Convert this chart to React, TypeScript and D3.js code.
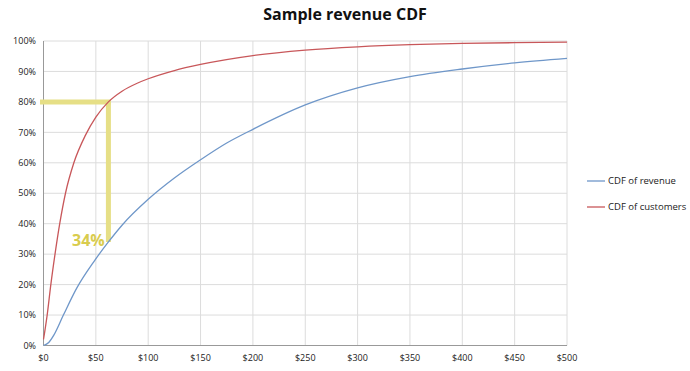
import React from "react";
import * as d3 from "d3";

// spend in $, cumulative share in %
const customerSpend = [0, 3.5, 7, 11, 15.5, 21, 29, 40, 50, 62, 75, 90, 100, 125, 150, 200, 250, 300, 350, 400, 450, 500];
const customerShare = [2, 10, 20, 30, 40, 50, 60, 69, 75, 80, 83.5, 86.2, 87.6, 90.3, 92.3, 95.2, 97, 98.1, 98.8, 99.2, 99.45, 99.6];

const revenueSpend = [0, 5, 10, 19, 32, 48, 62, 75, 100, 125, 150, 175, 200, 250, 300, 350, 400, 450, 500];
const revenueShare = [0, 1, 3.5, 10, 19, 27.5, 34, 39.5, 48, 55, 61, 66.5, 71, 79, 84.6, 88.3, 90.8, 92.8, 94.3];

const xTicks = [0, 50, 100, 150, 200, 250, 300, 350, 400, 450, 500];
const yTicks = [0, 10, 20, 30, 40, 50, 60, 70, 80, 90, 100];

const markSpend = 62;
const markCustomers = 80;
const markRevenue = 34;

export default function App() {
  const width = 690;
  const height = 371;
  const margin = { left: 43.5, right: 123, top: 41, bottom: 25.5 };

  const x = d3.scaleLinear().domain([0, 500]).range([margin.left, width - margin.right]);
  const y = d3.scaleLinear().domain([0, 100]).range([height - margin.bottom, margin.top]);

  const line = d3
    .line<[number, number]>()
    .x(d => x(d[0]))
    .y(d => y(d[1]))
    .curve(d3.curveMonotoneX);

  const revenuePath = line(revenueSpend.map((s, i) => [s, revenueShare[i]]));
  const customerPath = line(customerSpend.map((s, i) => [s, customerShare[i]]));

  const blue = "#6f97c9";
  const red = "#c8575a";
  const yellow = "#e6df86";

  return (
    <svg
      width={width}
      height={height}
      style={{ position: "absolute", left: 0, top: 0, background: "#fff" }}
      fontFamily="'Open Sans', 'Liberation Sans', sans-serif"
    >
      <text x={345} y={20} textAnchor="middle" fontSize={16} fontWeight="bold" fill="#111">
        Sample revenue CDF
      </text>

      {/* grid */}
      {yTicks.map(t => (
        <line key={"gy" + t} x1={x(0)} x2={x(500)} y1={y(t)} y2={y(t)} stroke="#dcdcdc" strokeWidth={1} />
      ))}
      {xTicks.map(t => (
        <line key={"gx" + t} x1={x(t)} x2={x(t)} y1={y(0)} y2={y(100)} stroke="#dcdcdc" strokeWidth={1} />
      ))}
      <line x1={x(0)} x2={x(0)} y1={y(0)} y2={y(100)} stroke="#999" />
      <line x1={x(0)} x2={x(500)} y1={y(0)} y2={y(0)} stroke="#999" />

      {/* tick labels */}
      {yTicks.map(t => (
        <text key={"ly" + t} x={36} y={y(t)} dy="0.35em" textAnchor="end" fontSize={9} fill="#222">
          {t}%
        </text>
      ))}
      {xTicks.map(t => (
        <text key={"lx" + t} x={x(t)} y={361} textAnchor="middle" fontSize={9} fill="#222">
          ${t}
        </text>
      ))}

      {/* annotation */}
      <line x1={40} x2={x(markSpend) + 2.5} y1={y(markCustomers)} y2={y(markCustomers)} stroke={yellow} strokeWidth={5} />
      <line
        x1={x(markSpend)}
        x2={x(markSpend)}
        y1={y(markCustomers)}
        y2={y(markRevenue)}
        stroke={yellow}
        strokeWidth={5}
      />

      <path d={customerPath || ""} fill="none" stroke={red} strokeWidth={1.3} />
      <path d={revenuePath || ""} fill="none" stroke={blue} strokeWidth={1.3} />

      <text x={72} y={246} fontSize={16} fontWeight="bold" fill="#d9cc4e">
        34%
      </text>

      {/* legend */}
      <line x1={587} x2={605} y1={181} y2={181} stroke={blue} strokeWidth={1.3} />
      <text x={608} y={181} dy="0.35em" fontSize={9.5} fill="#222">CDF of revenue</text>
      <line x1={587} x2={605} y1={207} y2={207} stroke={red} strokeWidth={1.3} />
      <text x={608} y={207} dy="0.35em" fontSize={9.5} fill="#222">CDF of customers</text>
    </svg>
  );
}
